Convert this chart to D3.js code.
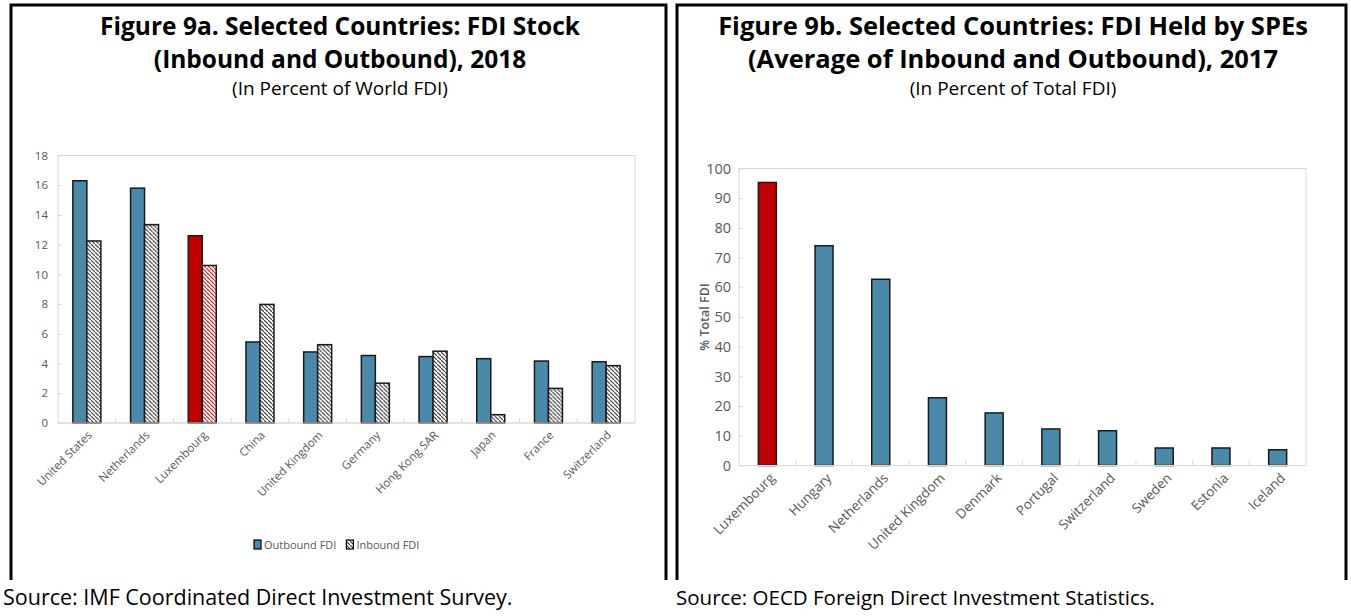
<!DOCTYPE html>
<html>
<head>
<meta charset="utf-8">
<script src="https://cdn.jsdelivr.net/npm/d3@7"></script>
<style>
    body { margin: 0; background: #fff; }
    svg { display: block; }
    text { font-family: 'Open Sans', 'Noto Sans', sans-serif; }
</style>
</head>
<body>
<div id="chart"></div>
<script>
// Figure 9a data: FDI stock, percent of world FDI, 2018
const countriesA = ['United States', 'Netherlands', 'Luxembourg', 'China', 'United Kingdom',
    'Germany', 'Hong Kong SAR', 'Japan', 'France', 'Switzerland'];
const outboundFDI = [16.3, 15.8, 12.6, 5.45, 4.78, 4.54, 4.47, 4.33, 4.17, 4.12];
const inboundFDI = [12.25, 13.35, 10.6, 7.98, 5.27, 2.68, 4.83, 0.56, 2.33, 3.86];
const ticksA = [0, 2, 4, 6, 8, 10, 12, 14, 16, 18];

// Figure 9b data: FDI held by SPEs, percent of total FDI, 2017
const countriesB = ['Luxembourg', 'Hungary', 'Netherlands', 'United Kingdom', 'Denmark',
    'Portugal', 'Switzerland', 'Sweden', 'Estonia', 'Iceland'];
const speShare = [95.3, 74.0, 62.7, 22.8, 17.7, 12.3, 11.7, 5.9, 5.9, 5.3];
const ticksB = [0, 10, 20, 30, 40, 50, 60, 70, 80, 90, 100];

const highlight = 'Luxembourg';
const blue = '#4a89aa';
const red = '#c00000';
const gray = '#595959';
const gridGray = '#d9d9d9';

const width = 1351;
const height = 616;

const svg = d3.select('#chart')
    .append('svg')
    .attr('width', width)
    .attr('height', height);

// Hatch patterns for inbound bars
const defs = svg.append('defs');
function addHatch(id, color) {
    const p = defs.append('pattern')
        .attr('id', id)
        .attr('patternUnits', 'userSpaceOnUse')
        .attr('width', 4)
        .attr('height', 4);
    p.append('rect').attr('width', 4).attr('height', 4).attr('fill', '#fff');
    p.append('path')
        .attr('d', 'M-1,-1 l2,2 M0,0 l4,4 M3,3 l2,2')
        .attr('stroke', color)
        .attr('stroke-width', 1.1);
}
addHatch('hatchGray', '#333');
addHatch('hatchRed', red);

// Panel frames
const frame = svg.append('g')
    .attr('fill', 'none')
    .attr('stroke', '#000')
    .attr('stroke-width', 3);
frame.append('path').attr('d', 'M11,580 V5 H666 V580');
frame.append('path').attr('d', 'M677,580 V5 H1346 V580');

// Titles
function addTitles(cx, lines, sub, size) {
    lines.forEach((t, i) => {
        svg.append('text')
            .attr('x', cx)
            .attr('y', 35 + i * 33)
            .attr('text-anchor', 'middle')
            .style('font-size', size + 'px')
            .style('font-weight', 'bold')
            .attr('fill', '#000')
            .text(t);
    });
    svg.append('text')
        .attr('x', cx)
        .attr('y', 95)
        .attr('text-anchor', 'middle')
        .style('font-size', '19px')
        .attr('fill', '#000')
        .text(sub);
}
addTitles(340, ['Figure 9a. Selected Countries: FDI Stock', '(Inbound and Outbound), 2018'],
    '(In Percent of World FDI)', 24.5);
addTitles(1013, ['Figure 9b. Selected Countries: FDI Held by SPEs', '(Average of Inbound and Outbound), 2017'],
    '(In Percent of Total FDI)', 25.5);

// Source lines
svg.append('text').attr('x', 3).attr('y', 605)
    .style('font-size', '21.5px').attr('fill', '#000')
    .text('Source: IMF Coordinated Direct Investment Survey.');
svg.append('text').attr('x', 676).attr('y', 605)
    .style('font-size', '20.5px').attr('fill', '#000')
    .text('Source: OECD Foreign Direct Investment Statistics.');

// Light gray box around a plot area
function drawPlotArea(g, x, y, w, h) {
    g.append('rect')
        .attr('x', x).attr('y', y)
        .attr('width', w).attr('height', h)
        .attr('fill', 'none')
        .attr('stroke', gridGray)
        .attr('stroke-width', 1);
}

// ---------- Figure 9a ----------
const a = { left: 58, right: 635, top: 155.5, bottom: 423 };
const gA = svg.append('g');

const xA = d3.scaleBand()
    .domain(countriesA)
    .range([a.left, a.right]);
const yA = d3.scaleLinear()
    .domain([0, 18])
    .range([a.bottom, a.top]);

drawPlotArea(gA, a.left, a.top, a.right - a.left, a.bottom - a.top);

const yAxisA = gA.append('g')
    .attr('transform', `translate(${a.left},0)`)
    .call(d3.axisLeft(yA).tickValues(ticksA).tickSize(-4).tickPadding(10));
yAxisA.select('.domain').remove();
yAxisA.selectAll('line').attr('stroke', gridGray);
yAxisA.selectAll('text').attr('fill', gray).style('font-size', '11.5px');

// category separators
gA.append('g')
    .selectAll('line')
    .data(countriesA.slice(1))
    .join('line')
    .attr('x1', d => xA(d)).attr('x2', d => xA(d))
    .attr('y1', a.bottom).attr('y2', a.bottom - 5)
    .attr('stroke', gridGray);

const barW = 14;
const groupsA = gA.append('g')
    .selectAll('g')
    .data(countriesA)
    .join('g')
    .attr('transform', d => `translate(${xA(d) + xA.bandwidth() / 2},0)`);

groupsA.append('rect')
    .attr('x', -barW)
    .attr('y', (d, i) => yA(outboundFDI[i]))
    .attr('width', barW)
    .attr('height', (d, i) => yA(0) - yA(outboundFDI[i]))
    .attr('fill', d => d === highlight ? red : blue)
    .attr('stroke', '#1a1a1a')
    .attr('stroke-width', 1.5);

groupsA.append('rect')
    .attr('x', 0)
    .attr('y', (d, i) => yA(inboundFDI[i]))
    .attr('width', barW)
    .attr('height', (d, i) => yA(0) - yA(inboundFDI[i]))
    .attr('fill', d => d === highlight ? 'url(#hatchRed)' : 'url(#hatchGray)')
    .attr('stroke', '#1a1a1a')
    .attr('stroke-width', 1.5);

gA.append('line')
    .attr('x1', a.left).attr('x2', a.right)
    .attr('y1', a.bottom).attr('y2', a.bottom)
    .attr('stroke', gridGray);

gA.append('g')
    .selectAll('text')
    .data(countriesA)
    .join('text')
    .attr('transform', d => `translate(${xA(d) + xA.bandwidth() / 2 + 3},${a.bottom + 10}) rotate(-45)`)
    .attr('text-anchor', 'end')
    .attr('dy', '0.35em')
    .attr('fill', gray)
    .style('font-size', '11.5px')
    .text(d => d);

// legend
const legendItems = [
    { label: 'Outbound FDI', fill: blue },
    { label: 'Inbound FDI', fill: 'url(#hatchGray)' }
];
const legend = gA.append('g').attr('transform', 'translate(254,545)');
let lx = 0;
legendItems.forEach(item => {
    legend.append('rect').attr('x', lx).attr('y', -5).attr('width', 7).attr('height', 9)
        .attr('fill', item.fill).attr('stroke', '#000').attr('stroke-width', 1.2);
    const t = legend.append('text').attr('x', lx + 10).attr('y', 0).attr('dy', '0.35em')
        .attr('fill', gray).style('font-size', '11px').text(item.label);
    lx += 10 + t.node().getComputedTextLength() + 10;
});

// ---------- Figure 9b ----------
const b = { left: 739, right: 1306, top: 168.5, bottom: 465.5 };
const gB = svg.append('g');

const xB = d3.scaleBand()
    .domain(countriesB)
    .range([b.left, b.right]);
const yB = d3.scaleLinear()
    .domain([0, 100])
    .range([b.bottom, b.top]);

drawPlotArea(gB, b.left, b.top, b.right - b.left, b.bottom - b.top);

const yAxisB = gB.append('g')
    .attr('transform', `translate(${b.left},0)`)
    .call(d3.axisLeft(yB).tickValues(ticksB).tickSize(-4).tickPadding(8));
yAxisB.select('.domain').remove();
yAxisB.selectAll('line').attr('stroke', gridGray);
yAxisB.selectAll('text').attr('fill', gray).style('font-size', '14.5px');

gB.append('text')
    .attr('transform', `translate(709,${(b.top + b.bottom) / 2}) rotate(-90)`)
    .attr('text-anchor', 'middle')
    .attr('fill', gray)
    .style('font-size', '12.5px')
    .style('font-weight', '600')
    .text('% Total FDI');

gB.append('g')
    .selectAll('line')
    .data(countriesB.slice(1))
    .join('line')
    .attr('x1', d => xB(d)).attr('x2', d => xB(d))
    .attr('y1', b.bottom).attr('y2', b.bottom - 5)
    .attr('stroke', gridGray);

const barWB = 18;
gB.append('g')
    .selectAll('rect')
    .data(countriesB)
    .join('rect')
    .attr('x', d => xB(d) + xB.bandwidth() / 2 - barWB / 2)
    .attr('y', (d, i) => yB(speShare[i]))
    .attr('width', barWB)
    .attr('height', (d, i) => yB(0) - yB(speShare[i]))
    .attr('fill', d => d === highlight ? red : blue)
    .attr('stroke', '#1a1a1a')
    .attr('stroke-width', 1.5);

gB.append('line')
    .attr('x1', b.left).attr('x2', b.right)
    .attr('y1', b.bottom).attr('y2', b.bottom)
    .attr('stroke', gridGray);

gB.append('g')
    .selectAll('text')
    .data(countriesB)
    .join('text')
    .attr('transform', d => `translate(${xB(d) + xB.bandwidth() / 2 + 5},${b.bottom + 10}) rotate(-45)`)
    .attr('text-anchor', 'end')
    .attr('dy', '0.35em')
    .attr('fill', gray)
    .style('font-size', '13.5px')
    .text(d => d);
</script>
</body>
</html>
